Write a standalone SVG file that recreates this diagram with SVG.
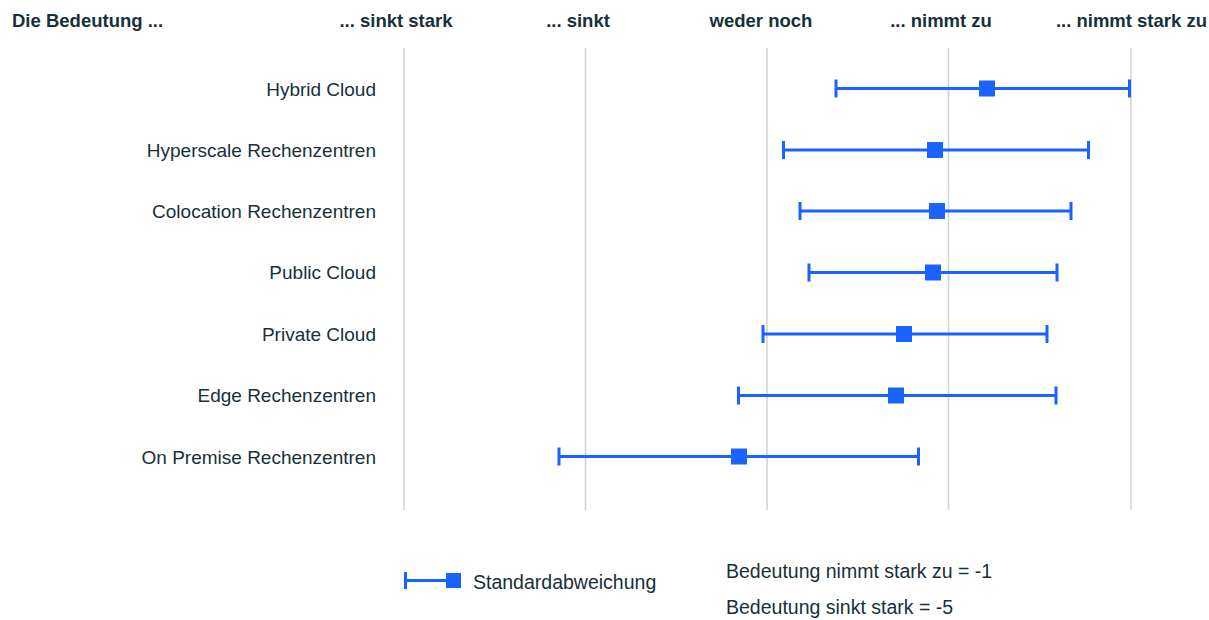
<svg xmlns="http://www.w3.org/2000/svg" width="1209" height="620" viewBox="0 0 1209 620">
<style>
.hd{font-family:"Liberation Sans",Arial,sans-serif;font-weight:bold;font-size:18.5px;fill:#17303a}
.lb{font-family:"Liberation Sans",Arial,sans-serif;font-size:19px;fill:#17303a;text-anchor:end}
.lg{font-family:"Liberation Sans",Arial,sans-serif;font-size:19.5px;fill:#17303a}
.grid{stroke:#d2d2d2;stroke-width:1.5}
.bar{stroke:#1a63ff;stroke-width:3;fill:none}
.cap{stroke:#1a63ff;stroke-width:3}
.sq{fill:#1a63ff}
</style>
<rect width="1209" height="620" fill="#ffffff"/>
<g id="headers">
<text class="hd" x="12" y="27">Die Bedeutung ...</text>
<text class="hd" x="396" y="27" text-anchor="middle">... sinkt stark</text>
<text class="hd" x="578" y="27" text-anchor="middle">... sinkt</text>
<text class="hd" x="761" y="27" text-anchor="middle">weder noch</text>
<text class="hd" x="941" y="27" text-anchor="middle">... nimmt zu</text>
<text class="hd" x="1207" y="27" text-anchor="end">... nimmt stark zu</text>
</g>
<g id="grid">
<line class="grid" x1="404" y1="48" x2="404" y2="510"/>
<line class="grid" x1="585.5" y1="48" x2="585.5" y2="510"/>
<line class="grid" x1="767" y1="48" x2="767" y2="510"/>
<line class="grid" x1="948.5" y1="48" x2="948.5" y2="510"/>
<line class="grid" x1="1131" y1="48" x2="1131" y2="510"/>
</g>
<g id="labels">
<text class="lb" x="376" y="96">Hybrid Cloud</text>
<text class="lb" x="376" y="157">Hyperscale Rechenzentren</text>
<text class="lb" x="376" y="218">Colocation Rechenzentren</text>
<text class="lb" x="376" y="279">Public Cloud</text>
<text class="lb" x="376" y="341">Private Cloud</text>
<text class="lb" x="376" y="402">Edge Rechenzentren</text>
<text class="lb" x="376" y="464">On Premise Rechenzentren</text>
</g>
<g id="connectors">
<g id="row-hybrid">
<line class="bar" x1="836" y1="88.5" x2="1129.5" y2="88.5"/>
<line class="cap" x1="836" y1="79.5" x2="836" y2="97.5"/>
<line class="cap" x1="1129.5" y1="79.5" x2="1129.5" y2="97.5"/>
<rect class="sq" x="979" y="80.5" width="16" height="16"/>
</g>
<g id="row-hyperscale">
<line class="bar" x1="783.5" y1="150" x2="1088.5" y2="150"/>
<line class="cap" x1="783.5" y1="141" x2="783.5" y2="159"/>
<line class="cap" x1="1088.5" y1="141" x2="1088.5" y2="159"/>
<rect class="sq" x="927" y="142" width="16" height="16"/>
</g>
<g id="row-colocation">
<line class="bar" x1="800" y1="211" x2="1071" y2="211"/>
<line class="cap" x1="800" y1="202" x2="800" y2="220"/>
<line class="cap" x1="1071" y1="202" x2="1071" y2="220"/>
<rect class="sq" x="929" y="203" width="16" height="16"/>
</g>
<g id="row-public">
<line class="bar" x1="809" y1="272.5" x2="1057" y2="272.5"/>
<line class="cap" x1="809" y1="263.5" x2="809" y2="281.5"/>
<line class="cap" x1="1057" y1="263.5" x2="1057" y2="281.5"/>
<rect class="sq" x="925" y="264.5" width="16" height="16"/>
</g>
<g id="row-private">
<line class="bar" x1="763" y1="334" x2="1047" y2="334"/>
<line class="cap" x1="763" y1="325" x2="763" y2="343"/>
<line class="cap" x1="1047" y1="325" x2="1047" y2="343"/>
<rect class="sq" x="896" y="326" width="16" height="16"/>
</g>
<g id="row-edge">
<line class="bar" x1="738.5" y1="395.5" x2="1056" y2="395.5"/>
<line class="cap" x1="738.5" y1="386.5" x2="738.5" y2="404.5"/>
<line class="cap" x1="1056" y1="386.5" x2="1056" y2="404.5"/>
<rect class="sq" x="888" y="387.5" width="16" height="16"/>
</g>
<g id="row-onpremise">
<line class="bar" x1="559" y1="456.5" x2="918.5" y2="456.5"/>
<line class="cap" x1="559" y1="447.5" x2="559" y2="465.5"/>
<line class="cap" x1="918.5" y1="447.5" x2="918.5" y2="465.5"/>
<rect class="sq" x="731" y="448.5" width="16" height="16"/>
</g>
</g>
<g id="legend">
<line class="bar" x1="405" y1="580.5" x2="448" y2="580.5"/>
<line class="cap" x1="405.5" y1="572" x2="405.5" y2="589"/>
<rect class="sq" x="446" y="573" width="15" height="15"/>
<text class="lg" x="473" y="589">Standardabweichung</text>
<text class="lg" x="726" y="578">Bedeutung nimmt stark zu = -1</text>
<text class="lg" x="726" y="614">Bedeutung sinkt stark = -5</text>
</g>
</svg>
